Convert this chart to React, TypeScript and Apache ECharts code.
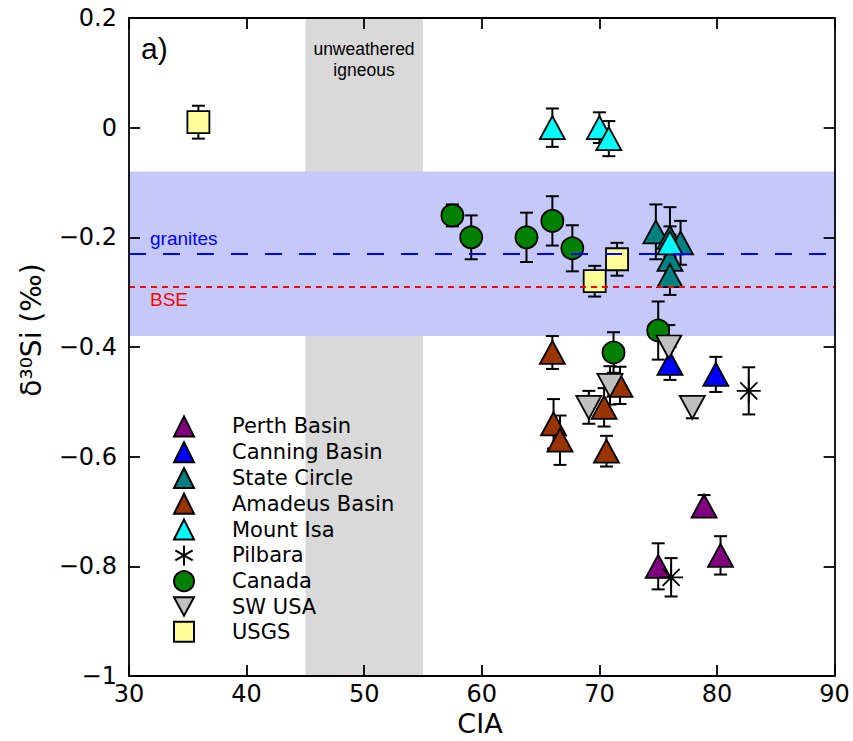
import React, { useEffect, useRef } from "react";
import * as echarts from "echarts";

// Each sample: [CIA, δ30Si, 1σ error]
const perthBasin = [
  [78.9, -0.69, 0.02],
  [80.3, -0.78, 0.035],
  [75.0, -0.8, 0.042],
];
const canningBasin = [
  [76.0, -0.43, 0.03],
  [79.9, -0.45, 0.032],
];
const stateCircle = [
  [74.8, -0.19, 0.05],
  [76.0, -0.2, 0.055],
  [76.9, -0.21, 0.04],
  [76.0, -0.24, 0.045],
  [76.0, -0.27, 0.035],
];
const amadeusBasin = [
  [66.0, -0.41, 0.03],
  [66.1, -0.54, 0.045],
  [66.65, -0.57, 0.045],
  [70.4, -0.51, 0.035],
  [70.6, -0.59, 0.028],
  [71.75, -0.47, 0.034],
];
const mountIsa = [
  [66.0, 0.0, 0.035],
  [70.0, 0.0, 0.028],
  [70.8, -0.02, 0.032],
  [76.0, -0.21, 0.03],
];
const pilbara = [
  [82.7, -0.48, 0.043],
  [76.1, -0.82, 0.035],
];
const canada = [
  [57.5, -0.16, 0.02],
  [59.1, -0.2, 0.04],
  [63.8, -0.2, 0.045],
  [66.0, -0.17, 0.045],
  [67.7, -0.22, 0.042],
  [75.0, -0.37, 0.053],
  [71.2, -0.41, 0.037],
];
const swUsa = [
  [69.1, -0.51, 0.03],
  [70.9, -0.47, 0.035],
  [75.9, -0.4, 0.04],
  [77.9, -0.51, 0.02],
];
const usgs = [
  [35.9, 0.01, 0.03],
  [69.6, -0.28, 0.028],
  [71.5, -0.24, 0.03],
];

// Reference ranges
const unweatheredIgneousCIA = [45, 55];
const graniteRange = [-0.08, -0.38];
const graniteMean = -0.23;
const bseValue = -0.29;

const xTicks = { min: 30, max: 90, interval: 10 };
const yTicks = { min: -1, max: 0.2, interval: 0.2 };

const ASTERISK_PLOT =
  "path://M12,0V24M0,12H24M3.5,3.5L20.5,20.5M3.5,20.5L20.5,3.5";
const ASTERISK_LEGEND =
  "path://M10,0V20M1.34,5L18.66,15M1.34,15L18.66,5";
const TRIANGLE_DOWN = "path://M0,0L24,0L12,22Z";

type Group = {
  name: string;
  data: number[][];
  symbol: string;
  size: number | number[];
  color: string;
  legendIcon?: string;
};

const groups: Group[] = [
  { name: "Perth Basin", data: perthBasin, symbol: "triangle", size: [25, 23], color: "#800080" },
  { name: "Canning Basin", data: canningBasin, symbol: "triangle", size: [25, 23], color: "#0000ff" },
  { name: "State Circle", data: stateCircle, symbol: "triangle", size: [25, 23], color: "#008080" },
  { name: "Amadeus Basin", data: amadeusBasin, symbol: "triangle", size: [25, 23], color: "#993300" },
  { name: "Mount Isa", data: mountIsa, symbol: "triangle", size: [25, 23], color: "#00ffff" },
  { name: "Pilbara", data: pilbara, symbol: ASTERISK_PLOT, size: 24, color: "#000000", legendIcon: ASTERISK_LEGEND },
  { name: "Canada", data: canada, symbol: "circle", size: 22, color: "#008000" },
  { name: "SW USA", data: swUsa, symbol: TRIANGLE_DOWN, size: [25, 23], color: "#c0c0c0" },
  { name: "USGS", data: usgs, symbol: "rect", size: 22, color: "#ffff99" },
];

const TICK_FONT = "DejaVu Sans";
const NOTE_FONT = "Liberation Sans";

function formatY(v: number): string {
  const r = Math.round(v * 10) / 10;
  if (Math.abs(r) < 1e-9) return "0";
  const s = Number.isInteger(r) ? Math.abs(r).toString() : Math.abs(r).toFixed(1);
  return (r < 0 ? "\u2212" : "") + s;
}

function errorBarItem(_params: any, api: any) {
  const x = api.value(0);
  const y = api.value(1);
  const e = api.value(2);
  const top = api.coord([x, y + e]);
  const bot = api.coord([x, y - e]);
  const cap = 6.5;
  const style = { stroke: "#000", lineWidth: 2 };
  return {
    type: "group",
    children: [
      { type: "line", shape: { x1: top[0], y1: top[1], x2: bot[0], y2: bot[1] }, style },
      { type: "line", shape: { x1: top[0] - cap, y1: top[1], x2: top[0] + cap, y2: top[1] }, style },
      { type: "line", shape: { x1: bot[0] - cap, y1: bot[1], x2: bot[0] + cap, y2: bot[1] }, style },
    ],
  };
}

const centered = {
  align: "center",
  textAlign: "center",
  verticalAlign: "middle",
  textVerticalAlign: "middle",
};
const leftMiddle = { verticalAlign: "middle", textVerticalAlign: "middle" };

export default function App() {
  const ref = useRef<HTMLDivElement>(null);

  useEffect(() => {
    if (!ref.current) return;
    const chart = echarts.init(ref.current, undefined, { renderer: "svg" });

    const axisLine = { show: true, onZero: false, lineStyle: { color: "#000", width: 1.8 } };
    const axisTick = { show: true, inside: true, length: 11, lineStyle: { color: "#000", width: 1.8 } };

    const series: any[] = [
      {
        type: "scatter",
        data: [],
        z: 1,
        silent: true,
        markArea: {
          silent: true,
          itemStyle: { color: "#d9d9d9" },
          data: [[{ xAxis: unweatheredIgneousCIA[0] }, { xAxis: unweatheredIgneousCIA[1] }]],
        },
      },
      {
        type: "scatter",
        data: [],
        z: 1,
        silent: true,
        markArea: {
          silent: true,
          itemStyle: { color: "#c4c9fa" },
          data: [[{ yAxis: graniteRange[0] }, { yAxis: graniteRange[1] }]],
        },
      },
      {
        type: "scatter",
        data: [],
        z: 1,
        silent: true,
        markLine: {
          silent: true,
          symbol: "none",
          label: { show: false },
          data: [
            { yAxis: graniteMean, lineStyle: { color: "#0000ff", width: 2, type: [17, 17] } },
            { yAxis: bseValue, lineStyle: { color: "#ff0000", width: 2, type: [6, 5] } },
          ],
        },
      },
    ];

    groups.forEach((g) => {
      series.push({
        type: "custom",
        renderItem: errorBarItem,
        data: g.data,
        encode: { x: 0, y: 1 },
        silent: true,
        z: 2,
      });
      series.push({
        type: "scatter",
        name: g.name,
        data: g.data.map((d) => [d[0], d[1]]),
        symbol: g.symbol,
        symbolSize: g.size,
        itemStyle: { color: g.color, borderColor: "#000", borderWidth: 1.8, opacity: 1 },
        emphasis: { disabled: true },
        z: 2,
      });
    });

    chart.setOption({
      animation: false,
      grid: { left: 129, right: 18.4, top: 18, bottom: 65, containLabel: false },
      xAxis: [
        {
          type: "value",
          position: "bottom",
          ...xTicks,
          axisLine,
          axisTick,
          splitLine: { show: false },
          axisLabel: { fontFamily: TICK_FONT, fontSize: 24, color: "#000", margin: 6 },
          z: 10,
        },
        {
          type: "value",
          position: "top",
          ...xTicks,
          axisLine,
          axisTick,
          splitLine: { show: false },
          axisLabel: { show: false },
          z: 10,
        },
      ],
      yAxis: [
        {
          type: "value",
          position: "left",
          ...yTicks,
          axisLine,
          axisTick,
          splitLine: { show: false },
          axisLabel: { fontFamily: TICK_FONT, fontSize: 24, color: "#000", margin: 12, formatter: formatY },
          z: 10,
        },
        {
          type: "value",
          position: "right",
          ...yTicks,
          axisLine,
          axisTick,
          splitLine: { show: false },
          axisLabel: { show: false },
          z: 10,
        },
      ],
      legend: {
        data: groups.map((g) => (g.legendIcon ? { name: g.name, icon: g.legendIcon } : { name: g.name })),
        orient: "vertical",
        left: 168,
        top: 410.4,
        itemWidth: 20,
        itemHeight: 20,
        itemGap: 3.8,
        selectedMode: false,
        textStyle: {
          fontFamily: TICK_FONT,
          fontSize: 21,
          color: "#000",
          lineHeight: 20,
          padding: [0, 0, 0, 33],
        },
      },
      graphic: [
        {
          type: "text",
          x: 141,
          y: 48,
          z: 20,
          style: { text: "a)", font: `30px "${NOTE_FONT}"`, fill: "#000", ...leftMiddle },
        },
        {
          type: "text",
          x: 364,
          y: 49,
          z: 20,
          style: { text: "unweathered", font: `17.5px "${NOTE_FONT}"`, fill: "#000", ...centered },
        },
        {
          type: "text",
          x: 364,
          y: 70,
          z: 20,
          style: { text: "igneous", font: `17.5px "${NOTE_FONT}"`, fill: "#000", ...centered },
        },
        {
          type: "text",
          x: 150,
          y: 238.5,
          z: 20,
          style: { text: "granites", font: `19px "${NOTE_FONT}"`, fill: "#0000ff", ...leftMiddle },
        },
        {
          type: "text",
          x: 150,
          y: 299.5,
          z: 20,
          style: { text: "BSE", font: `19px "${NOTE_FONT}"`, fill: "#ff0000", ...leftMiddle },
        },
        {
          type: "text",
          x: 31,
          y: 330,
          rotation: Math.PI / 2,
          z: 20,
          style: { text: "δ³⁰Si (‰)", font: `28px "${TICK_FONT}"`, fill: "#000", ...centered },
        },
        {
          type: "text",
          x: 480,
          y: 723,
          z: 20,
          style: { text: "CIA", font: `27px "${TICK_FONT}"`, fill: "#000", ...centered },
        },
      ],
      series,
    });

    return () => chart.dispose();
  }, []);

  return (
    <div
      ref={ref}
      style={{ position: "fixed", left: 0, top: 0, width: 853, height: 741, background: "#fff" }}
    />
  );
}
